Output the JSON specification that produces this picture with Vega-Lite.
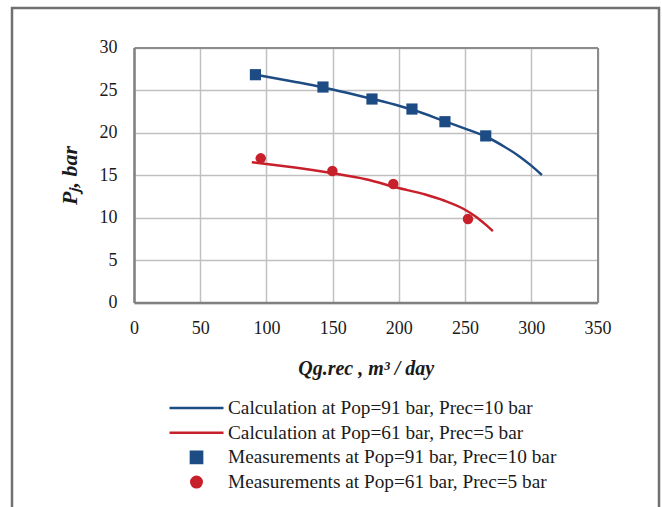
{
  "$schema": "https://vega.github.io/schema/vega-lite/v6.json",
  "autosize": "none",
  "width": 647,
  "height": 510,
  "padding": {"left": 12, "top": 8, "right": 3, "bottom": 0},
  "background": "white",
  "config": {
    "font": "Liberation Serif",
    "view": {"stroke": "#707070", "strokeWidth": 2.5},
    "axis": {"labelColor": "#1a1a1a", "titleColor": "#1a1a1a", "labelFont": "Liberation Serif", "titleFont": "Liberation Serif", "labelFlush": false},
    "legend": {
      "orient": "none",
      "legendX": 156,
      "legendY": 391,
      "labelFont": "Liberation Serif",
      "labelFontSize": 19.3,
      "labelColor": "#1a1a1a",
      "labelLimit": 500,
      "labelOffset": 3,
      "rowPadding": 4.7,
      "clipHeight": 18,
      "symbolStrokeWidth": 2.5,
      "symbolOpacity": 1
    }
  },
  "data": {
    "values": [
      {"series": "Calculation at Pop=91 bar, Prec=10 bar", "q": 92, "p": 26.8},
      {"series": "Calculation at Pop=91 bar, Prec=10 bar", "q": 120, "p": 26.0},
      {"series": "Calculation at Pop=91 bar, Prec=10 bar", "q": 143, "p": 25.3},
      {"series": "Calculation at Pop=91 bar, Prec=10 bar", "q": 160, "p": 24.7},
      {"series": "Calculation at Pop=91 bar, Prec=10 bar", "q": 180, "p": 23.95},
      {"series": "Calculation at Pop=91 bar, Prec=10 bar", "q": 200, "p": 23.15},
      {"series": "Calculation at Pop=91 bar, Prec=10 bar", "q": 210, "p": 22.7},
      {"series": "Calculation at Pop=91 bar, Prec=10 bar", "q": 235, "p": 21.3},
      {"series": "Calculation at Pop=91 bar, Prec=10 bar", "q": 250, "p": 20.45},
      {"series": "Calculation at Pop=91 bar, Prec=10 bar", "q": 266, "p": 19.5},
      {"series": "Calculation at Pop=91 bar, Prec=10 bar", "q": 280, "p": 18.3},
      {"series": "Calculation at Pop=91 bar, Prec=10 bar", "q": 290, "p": 17.3},
      {"series": "Calculation at Pop=91 bar, Prec=10 bar", "q": 300, "p": 16.1},
      {"series": "Calculation at Pop=91 bar, Prec=10 bar", "q": 308, "p": 15.0},
      {"series": "Calculation at Pop=61 bar, Prec=5 bar", "q": 89, "p": 16.5},
      {"series": "Calculation at Pop=61 bar, Prec=5 bar", "q": 100, "p": 16.3},
      {"series": "Calculation at Pop=61 bar, Prec=5 bar", "q": 120, "p": 15.9},
      {"series": "Calculation at Pop=61 bar, Prec=5 bar", "q": 150, "p": 15.2},
      {"series": "Calculation at Pop=61 bar, Prec=5 bar", "q": 175, "p": 14.5},
      {"series": "Calculation at Pop=61 bar, Prec=5 bar", "q": 199, "p": 13.5},
      {"series": "Calculation at Pop=61 bar, Prec=5 bar", "q": 220, "p": 12.7},
      {"series": "Calculation at Pop=61 bar, Prec=5 bar", "q": 234, "p": 12.0},
      {"series": "Calculation at Pop=61 bar, Prec=5 bar", "q": 249, "p": 11.0},
      {"series": "Calculation at Pop=61 bar, Prec=5 bar", "q": 259, "p": 10.0},
      {"series": "Calculation at Pop=61 bar, Prec=5 bar", "q": 266, "p": 9.1},
      {"series": "Calculation at Pop=61 bar, Prec=5 bar", "q": 271, "p": 8.4},
      {"series": "Measurements at Pop=91 bar, Prec=10 bar", "q": 91.7, "p": 26.8},
      {"series": "Measurements at Pop=91 bar, Prec=10 bar", "q": 142.7, "p": 25.35},
      {"series": "Measurements at Pop=91 bar, Prec=10 bar", "q": 179.7, "p": 23.94},
      {"series": "Measurements at Pop=91 bar, Prec=10 bar", "q": 209.9, "p": 22.76},
      {"series": "Measurements at Pop=91 bar, Prec=10 bar", "q": 234.8, "p": 21.27},
      {"series": "Measurements at Pop=91 bar, Prec=10 bar", "q": 265.6, "p": 19.6},
      {"series": "Measurements at Pop=61 bar, Prec=5 bar", "q": 95.7, "p": 16.96},
      {"series": "Measurements at Pop=61 bar, Prec=5 bar", "q": 149.8, "p": 15.47},
      {"series": "Measurements at Pop=61 bar, Prec=5 bar", "q": 195.8, "p": 13.94},
      {"series": "Measurements at Pop=61 bar, Prec=5 bar", "q": 252.2, "p": 9.82}
    ]
  },
  "layer": [
    {
      "transform": [{"filter": {"field": "series", "oneOf": ["Calculation at Pop=91 bar, Prec=10 bar", "Calculation at Pop=61 bar, Prec=5 bar"]}}],
      "mark": {"type": "line", "strokeWidth": 2.5, "interpolate": "monotone"},
      "encoding": {
        "x": {
          "field": "q", "type": "quantitative",
          "scale": {"domain": [0, 350], "range": [122, 585.5], "nice": false},
          "axis": {
            "orient": "bottom", "offset": -215.5,
            "values": [0, 50, 100, 150, 200, 250, 300, 350],
            "grid": false,
            "domainColor": "#808080", "domainWidth": 2.5,
            "ticks": false, "labelFontSize": 18, "labelPadding": 17,
            "title": "Qg.rec , m³ / day", "titleFontSize": 20, "titleFontStyle": "italic",
            "titleFontWeight": "bold", "titlePadding": 21
          }
        },
        "y": {
          "field": "p", "type": "quantitative",
          "scale": {"domain": [0, 30], "range": [294.5, 39.5], "nice": false},
          "axis": {
            "orient": "left", "offset": -122,
            "values": [0, 5, 10, 15, 20, 25, 30],
            "grid": true, "gridColor": "#c0c0c0", "gridWidth": 1.5,
            "domainColor": "#808080", "domainWidth": 2.5,
            "ticks": false, "labelFontSize": 18, "labelPadding": 17,
            "title": "Pⱼ, bar", "titleFontSize": 22, "titleFontStyle": "italic",
            "titleFontWeight": "bold", "titlePadding": 18
          }
        },
        "color": {
          "field": "series", "type": "nominal", "title": null,
          "scale": {
            "domain": [
              "Calculation at Pop=91 bar, Prec=10 bar",
              "Calculation at Pop=61 bar, Prec=5 bar",
              "Measurements at Pop=91 bar, Prec=10 bar",
              "Measurements at Pop=61 bar, Prec=5 bar"
            ],
            "range": ["#1d4c85", "#c8202b", "#1d4c85", "#c8202b"]
          }
        }
      }
    },
    {
      "transform": [{"filter": {"field": "series", "oneOf": ["Measurements at Pop=91 bar, Prec=10 bar", "Measurements at Pop=61 bar, Prec=5 bar"]}}],
      "mark": {"type": "point", "filled": true, "opacity": 1},
      "encoding": {
        "x": {
          "field": "q", "type": "quantitative",
          "axis": {"orient": "top", "offset": -39.5, "labels": false, "ticks": false,
                   "values": [0, 50, 100, 150, 200, 250, 300, 350],
                   "grid": true, "gridColor": "#c0c0c0", "gridWidth": 1.5,
                   "domainColor": "#8c8c8c", "domainWidth": 2, "title": null}
        },
        "y": {
          "field": "p", "type": "quantitative",
          "axis": {"orient": "right", "offset": -61.5, "labels": false, "ticks": false, "grid": false,
                   "domainColor": "#8c8c8c", "domainWidth": 2, "title": null}
        },
        "color": {
          "field": "series", "type": "nominal", "title": null,
          "legend": {
            "encode": {
              "symbols": {
                "update": {
                  "stroke": [
                    {"test": "datum.value[0] === 'C'", "scale": "color", "field": "value"},
                    {"value": "transparent"}
                  ],
                  "strokeWidth": {"value": 2.5}
                }
              }
            }
          }
        },
        "shape": {
          "field": "series", "type": "nominal", "title": null,
          "scale": {
            "domain": [
              "Calculation at Pop=91 bar, Prec=10 bar",
              "Calculation at Pop=61 bar, Prec=5 bar",
              "Measurements at Pop=91 bar, Prec=10 bar",
              "Measurements at Pop=61 bar, Prec=5 bar"
            ],
            "range": ["stroke", "stroke", "square", "circle"]
          }
        },
        "size": {
          "field": "series", "type": "nominal", "title": null,
          "scale": {
            "type": "ordinal",
            "domain": [
              "Calculation at Pop=91 bar, Prec=10 bar",
              "Calculation at Pop=61 bar, Prec=5 bar",
              "Measurements at Pop=91 bar, Prec=10 bar",
              "Measurements at Pop=61 bar, Prec=5 bar"
            ],
            "range": [2916, 2916, 125, 110]
          }
        }
      }
    }
  ],
  "resolve": {"axis": {"x": "independent", "y": "independent"}}
}
